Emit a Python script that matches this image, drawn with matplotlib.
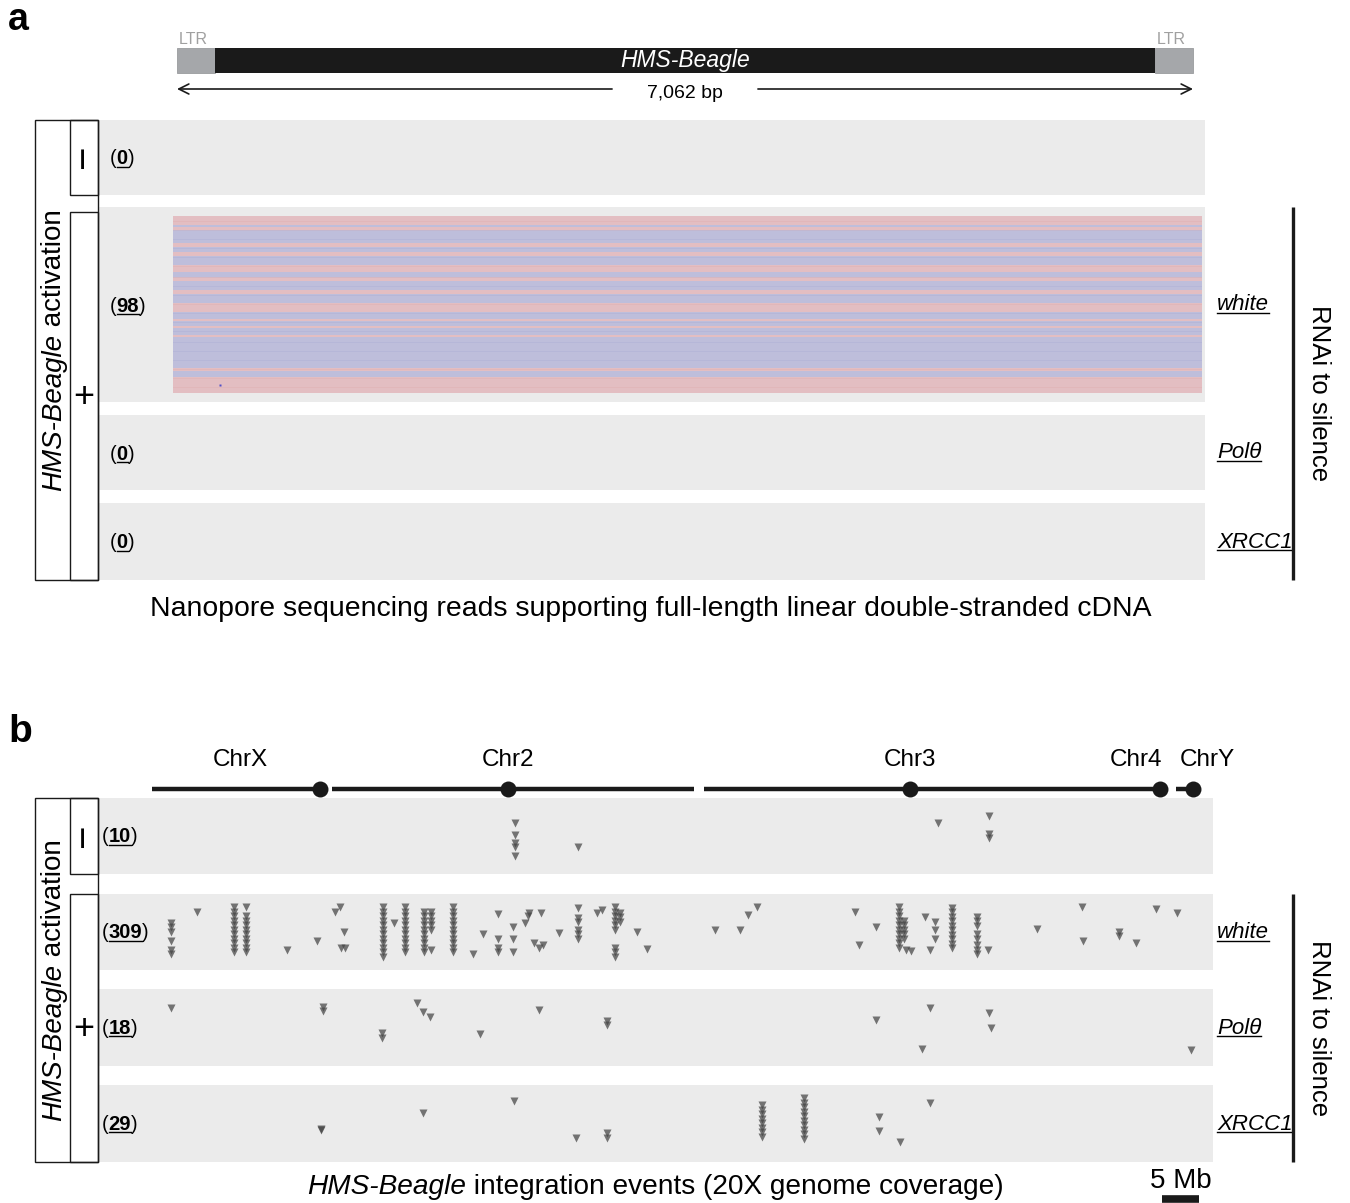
import numpy as np
import matplotlib
matplotlib.use('Agg')
import matplotlib.pyplot as plt
from matplotlib.patches import Rectangle

plt.rcParams['font.family'] = ['Liberation Sans', 'DejaVu Sans']

# ---------------- data ----------------
beagle_len = 7062
ltr_len = 264
read_start, read_end = -30, 7125
# strand of each full-length read, top to bottom ('+' red, '-' blue)
read_strand = ("+++++" "-" "++" "-------" "++" "---" "++" "-----" "++++" "---"
               "++" "-----" "++" "-----" "+++++" "----" "+" "---" "+" "----"
               "+" "-----------------" "++" "---" "+++++++++")
mismatch = (300, 93)  # (bp, read index)

rnai = ['white', 'Polθ', 'XRCC1']
reads_count = [0, 98, 0, 0]
events_count = [10, 309, 18, 29]

chrom_names = ['ChrX', 'Chr2', 'Chr3', 'Chr4', 'ChrY']
chrom_start = [0.0, 24.7, 75.6, 137.0, 140.3]
chrom_end = [23.0, 74.2, 137.0, 138.4, 143.3]
chrom_cen = [23.0, 48.8, 103.8, 138.1, 142.6]
scale_mb = 5

# integration sites: (genome position in Mb, stack level, number stacked)
sites_minus = [(49.7, 2.7, 1), (49.7, 5.3, 1), (49.7, 7.0, 2), (49.7, 10.0, 1),
               (58.4, 8.0, 1), (107.7, 2.7, 1), (114.7, 1.1, 1), (114.7, 5.1, 2)]
sites_white = [(2.6, 3.5, 3), (2.6, 7.5, 1), (2.6, 9.5, 2), (6.2, 1.0, 1),
               (11.2, 0, 11), (12.9, 0, 1), (12.9, 2, 9), (18.5, 9.5, 1),
               (22.6, 7.5, 1), (25.1, 1, 1), (25.8, 0, 1), (26.3, 5.5, 1),
               (25.9, 9, 1), (26.5, 9, 1), (31.6, 0, 12), (33.2, 3.5, 1),
               (34.7, 0, 11), (37.3, 1, 10), (38.2, 1, 5), (38.2, 9.5, 1),
               (41.2, 0, 11), (44.0, 10.5, 1), (45.3, 6, 1), (47.4, 1.5, 1),
               (47.4, 7, 1), (47.4, 9, 2), (49.5, 4.5, 1), (49.5, 7, 1),
               (49.5, 10, 1), (51.1, 3.5, 1), (51.5, 2, 1), (51.7, 1.3, 1),
               (53.3, 1.3, 1), (52.3, 8, 1), (53.0, 9, 1), (53.6, 8.5, 1),
               (55.8, 5.8, 1), (58.4, 0.2, 1), (58.4, 2.4, 2), (58.4, 5, 3),
               (61.0, 1.3, 1), (61.6, 0.7, 1), (63.4, 0, 6), (63.4, 9, 3),
               (64.1, 1.3, 3), (66.4, 5.5, 1), (67.8, 9.3, 1),
               (77.1, 5, 1), (80.5, 5, 1), (81.6, 1.8, 1), (82.9, 0, 1),
               (96.3, 1.1, 1), (96.8, 8.5, 1), (99.2, 4.4, 1), (102.3, 0, 10),
               (103.0, 3, 5), (103.3, 9.5, 1), (104.0, 9.8, 1), (105.9, 2.2, 1),
               (107.3, 3.3, 1), (107.3, 5, 1), (107.3, 7, 1), (106.6, 9.5, 1),
               (109.6, 0.2, 10), (113.0, 2.2, 3), (113.0, 6, 2), (113.0, 8.5, 3),
               (114.5, 9.5, 1), (121.2, 4.9, 1), (127.4, 0, 1), (127.5, 7.5, 1),
               (132.5, 5.5, 2), (134.8, 8, 1), (137.5, 0.4, 1), (140.4, 1.3, 1)]
sites_polq = [(2.6, 1.3, 1), (23.4, 1.1, 2), (31.5, 6.9, 2), (36.3, 0.2, 1),
              (37.1, 2.2, 1), (38.1, 3.3, 1), (44.9, 7.1, 1), (53.0, 1.8, 1),
              (62.3, 4.2, 2), (99.2, 4.0, 1), (106.6, 1.3, 1), (105.5, 10.4, 1),
              (114.7, 2.4, 1), (114.9, 5.8, 1), (142.3, 10.7, 1)]
sites_xrcc1 = [(23.2, 6.9, 1), (23.2, 7.2, 1), (37.1, 3.3, 1), (49.6, 0.7, 1),
               (58.1, 8.9, 1), (62.3, 7.8, 2), (83.6, 1.6, 8), (89.3, 0, 10),
               (99.6, 4.2, 1), (99.6, 7.3, 1), (102.5, 9.8, 1), (106.6, 1.1, 1)]
sites = [sites_minus, sites_white, sites_polq, sites_xrcc1]

# ---------------- layout (pixels) ----------------
W, H = 1350, 1203
A_ROWS = [(120, 195), (207, 402), (415, 490), (503, 580)]
B_ROWS = [(798, 874), (894, 970), (989, 1066), (1085, 1162)]
BAND = '#ebebeb'
INK = '#1a1a1a'

fig = plt.figure(figsize=(W / 100, H / 100), dpi=100)
bg = fig.add_axes([0, 0, 1, 1])
bg.set_xlim(0, W)
bg.set_ylim(H, 0)
bg.axis('off')


def overlay(px0, scale):
    ax = fig.add_axes([0, 0, 1, 1], facecolor='none')
    ax.set_xlim(-px0 / scale, (W - px0) / scale)
    ax.set_ylim(H, 0)
    ax.axis('off')
    return ax


ax_a = overlay(177, (1193 - 177) / beagle_len)   # x in bp
ax_b = overlay(152, 7.3)                          # x in Mb
renderer = fig.canvas.get_renderer()


def rich(x, y, parts, size, rot=0, align='left', color='black'):
    # parts: (text, weight, style, underline), laid out on a common baseline
    items = []
    for txt, weight, style, ul in parts:
        t = bg.text(x, y, txt, fontsize=size, fontweight=weight, fontstyle=style,
                    color=color, rotation=rot, rotation_mode='anchor',
                    ha='left', va='baseline')
        bb = t.get_window_extent(renderer)
        items.append((t, bb.height if rot else bb.width, ul))
    total = sum(w for _, w, _ in items)
    shift = {'left': 0, 'center': total / 2, 'right': total}[align]
    cur = y + shift if rot else x - shift
    for t, w, ul in items:
        if rot:
            t.set_y(cur)
            cur -= w
        else:
            t.set_x(cur)
            if ul:
                bg.plot([cur, cur + w], [y + 2.5, y + 2.5], color=color, lw=1.0)
            cur += w


def count_label(x, y, n):
    rich(x, y, [('(', 'normal', 'normal', False), (str(n), 'bold', 'normal', True),
                (')', 'normal', 'normal', False)], 14.5)


def side_boxes(rows, minus_rows):
    top, bot = rows[0][0], rows[-1][1]
    bg.add_patch(Rectangle((35, top), 63, bot - top, fill=False, lw=1.0, ec=INK))
    bg.add_patch(Rectangle((70, top), 28, minus_rows[1] - top, fill=False, lw=1.0, ec=INK))
    ptop = minus_rows[2]
    bg.add_patch(Rectangle((70, ptop), 28, bot - ptop, fill=False, lw=1.0, ec=INK))
    bg.text(84, (top + minus_rows[1]) / 2, '−', fontsize=29, rotation=90,
            ha='center', va='center')
    bg.text(84, (ptop + bot) / 2 + 2, '+', fontsize=26, ha='center', va='center')
    rich(61, (top + bot) / 2, [('HMS-Beagle', 'normal', 'italic', False),
                               (' activation', 'normal', 'normal', False)],
         20, rot=90, align='center')


def gene_side(rows, xr):
    for (t, b), g in zip(rows[1:], rnai):
        rich(1217, (t + b) / 2 + 6, [(g, 'normal', 'italic', True)], 16)
    bg.plot([1293, 1293], [rows[1][0], rows[-1][1]], color=INK, lw=2.4,
            solid_capstyle='butt')
    bg.text(1319, (rows[1][0] + rows[-1][1]) / 2, 'RNAi to silence', fontsize=18.5,
            rotation=270, ha='center', va='center')


# ---------------- panel a ----------------
bg.text(8, 30, 'a', fontsize=27, fontweight='bold')
ax_a.broken_barh([(0, ltr_len), (beagle_len - ltr_len, ltr_len)], (48, 25),
                 facecolors='#a5a7aa', edgecolors='#8e9093', lw=0.5)
ax_a.broken_barh([(ltr_len, beagle_len - 2 * ltr_len)], (48, 25), facecolors=INK)
for pos in (0, beagle_len - ltr_len):
    ax_a.text(pos + 15, 44, 'LTR', fontsize=11.5, color='#a0a0a0', ha='left',
              va='baseline')
ax_a.text(beagle_len / 2, 61, 'HMS-Beagle', fontsize=16.5, fontstyle='italic',
          color='white', ha='center', va='center')
lab = ax_a.text(beagle_len / 2, 93, f'{beagle_len:,} bp', fontsize=14,
                ha='center', va='center')
lb = lab.get_window_extent(renderer).transformed(ax_a.transData.inverted())
gap = 35 / ((1193 - 177) / beagle_len)
ax_a.annotate('', xy=(0, 89), xytext=(lb.x0 - gap, 89),
              arrowprops=dict(arrowstyle='->', lw=1.2, color=INK, mutation_scale=18,
                              shrinkA=0, shrinkB=0))
ax_a.annotate('', xy=(beagle_len, 89), xytext=(lb.x1 + gap, 89),
              arrowprops=dict(arrowstyle='->', lw=1.2, color=INK, mutation_scale=18,
                              shrinkA=0, shrinkB=0))

for (t, b), n in zip(A_ROWS, reads_count):
    bg.add_patch(Rectangle((98, t), 1205 - 98, b - t, color=BAND, lw=0))
    count_label(110, (t + b) / 2 + 7, n)

step = (393 - 216) / len(read_strand)
ys = 216 + step * (np.arange(len(read_strand)) + 0.5)
light = ['#e6c3c6' if s == '+' else '#c3c3de' for s in read_strand]
dark = ['#dba8ad' if s == '+' else '#a7a8d2' for s in read_strand]
ax_a.hlines(ys, read_start, read_end, colors=light, lw=step * 0.72)
ax_a.hlines(ys, read_start, read_end, colors=dark, lw=0.35)
ax_a.plot(mismatch[0], ys[mismatch[1]], 's', ms=1.5, color='#5050c8', mec='none')

side_boxes(A_ROWS, (A_ROWS[0][0], A_ROWS[0][1], 212))
gene_side(A_ROWS, 1205)
bg.text(651, 616, 'Nanopore sequencing reads supporting full-length linear '
        'double-stranded cDNA', fontsize=20.4, ha='center', va='baseline')

# ---------------- panel b ----------------
bg.text(8, 742, 'b', fontsize=28, fontweight='bold')
for name, s, e, c in zip(chrom_names, chrom_start, chrom_end, chrom_cen):
    ax_b.plot([s, e], [789, 789], color=INK, lw=3.2, solid_capstyle='butt')
    ax_b.plot(c, 789, 'o', ms=11.5, color=INK, mec='none')
lab_x = [(chrom_start[0] + chrom_end[0]) / 2 + 0.6, chrom_cen[1], chrom_cen[2],
         chrom_end[3], chrom_start[4] + 0.5]
lab_ha = ['center', 'center', 'center', 'right', 'left']
for name, x, ha in zip(chrom_names, lab_x, lab_ha):
    ax_b.text(x, 766, name, fontsize=17.5, ha=ha, va='baseline')

for (t, b), n, rows in zip(B_ROWS, events_count, sites):
    bg.add_patch(Rectangle((98, t), 1213 - 98, b - t, color=BAND, lw=0))
    count_label(102, (t + b) / 2 + 6, n)
    xs, yy = [], []
    for pos, lvl, k in rows:
        for i in range(k):
            xs.append(pos)
            yy.append(t + 13 + (lvl + i) * 4.5)
    ax_b.plot(xs, yy, 'v', ms=6.2, color='#444444', mec='none', alpha=0.72)

side_boxes(B_ROWS, (B_ROWS[0][0], B_ROWS[0][1], B_ROWS[1][0]))
gene_side(B_ROWS, 1213)
rich(655, 1194, [('HMS-Beagle', 'normal', 'italic', False),
                 (' integration events (20X genome coverage)', 'normal', 'normal', False)],
     20.2, align='center')
ax_b.plot([138.4, 138.4 + scale_mb], [1199, 1199], color=INK, lw=5.5,
          solid_capstyle='butt')
ax_b.text(138.4 + scale_mb / 2, 1188, f'{scale_mb} Mb', fontsize=20, ha='center',
          va='baseline')

fig.savefig('out.png', dpi=100)
